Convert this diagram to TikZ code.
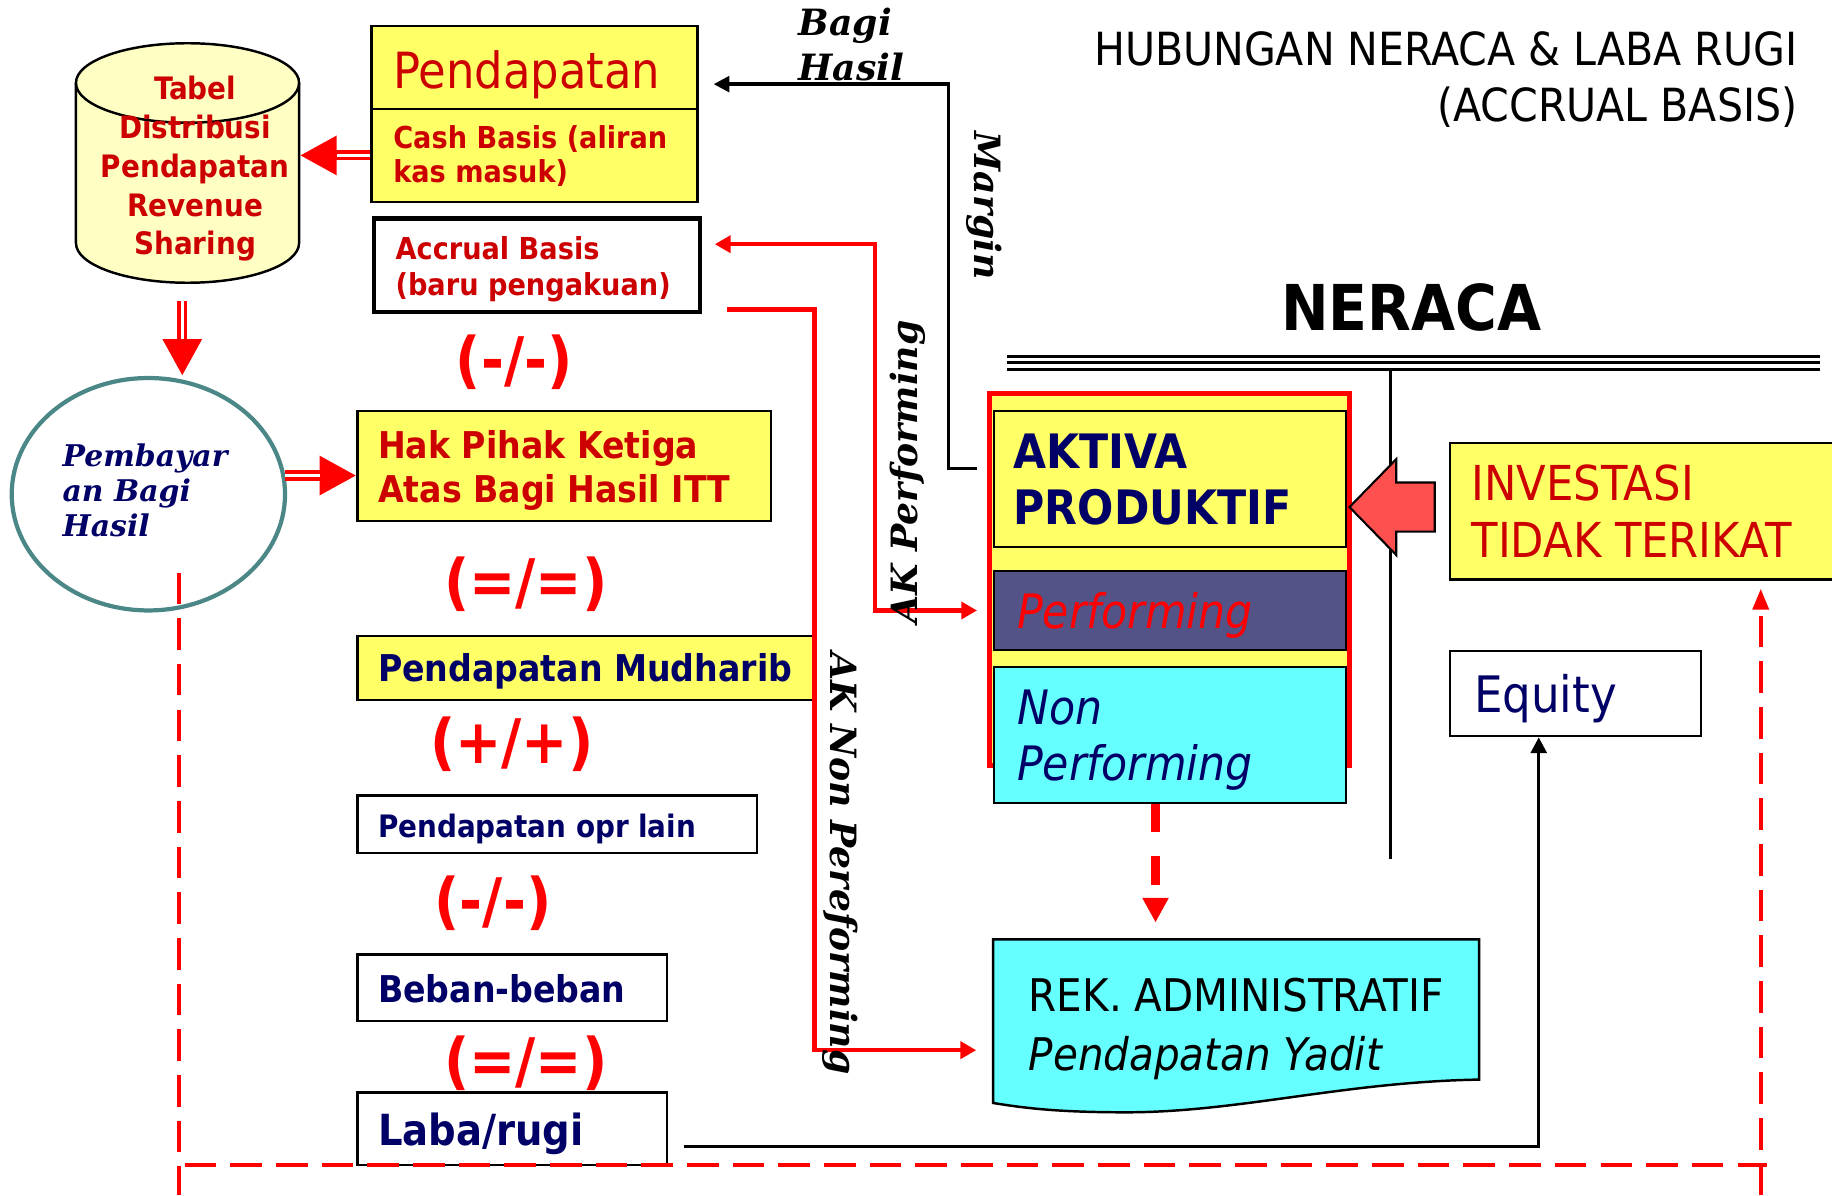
\documentclass[tikz,border=0pt]{standalone}
\usepackage{fontspec}
\setmainfont{DejaVu Sans Condensed}
\newfontfamily\labfont{DejaVu Serif}
\usetikzlibrary{shapes.geometric, arrows.meta, positioning, fit}

\definecolor{boxyellow}{HTML}{FFFF66}
\definecolor{paleyellow}{HTML}{FFFFC4}
\definecolor{txtred}{HTML}{CC0000}
\definecolor{navy}{HTML}{000066}
\definecolor{tealline}{RGB}{75,135,135}
\definecolor{slate}{RGB}{83,83,135}
\definecolor{aqua}{HTML}{66FFFF}
\definecolor{arrowred}{HTML}{FF5050}

\newcommand{\fs}[2]{\fontsize{#1}{#2}\selectfont}

\begin{document}
\begin{tikzpicture}[x=0.011684cm, y=-0.011684cm,
    >={Triangle[length=4.5pt,width=4.8pt]},
    ybox/.style={draw, line width=0.6pt, fill=boxyellow, inner sep=0pt},
    wbox/.style={draw, line width=0.7pt, fill=white, inner sep=0pt},
    txt/.style={inner sep=0pt, anchor=base west, align=left},
    ops/.style={inner sep=0pt, text=red, font=\fs{17.5}{17.5}\bfseries},
    lab/.style={inner sep=0pt, font=\labfont\fs{10.3}{12.8}\bfseries\itshape},
    blkarrow/.style={line width=0.95pt, -{Triangle[length=4.5pt,width=4.5pt]}},
    redline/.style={red, line width=1.3pt},
    reddash/.style={red, line width=1.25pt, dash pattern=on 9pt off 4pt},
    dblarrow/.style={red, line width=2.9pt, -{Triangle[length=10.5pt,width=10.5pt]},
        postaction={draw=white, line width=0.9pt, -, shorten >=10.5pt}}]
    \useasboundingbox (0,0) rectangle (1568,1023);

    % Title
    \node[inner sep=0pt, anchor=base east, align=right, font=\fs{13}{16.2}] (judul)
        at (1539,104.4) {HUBUNGAN NERACA \& LABA RUGI\\(ACCRUAL BASIS)};

    % Tabel distribusi (cylinder)
    \path[draw, line width=0.7pt, fill=paleyellow] (65,71) -- (65,208)
        arc[start angle=180, end angle=0, x radius=95.5, y radius=34] -- (256,71)
        arc[start angle=0, end angle=-180, x radius=95.5, y radius=34] -- cycle;
    \draw[line width=0.7pt] (65,71) arc[start angle=180, end angle=0, x radius=95.5, y radius=34];
    \node[fit={(65,37) (256,242)}, inner sep=0pt] (tabel) {};
    \node[inner sep=0pt, anchor=base, align=center, text=txtred, font=\fs{8.8}{11.05}\bfseries] (tabeltxt)
        at (167,218.2) {Tabel\\Distribusi\\Pendapatan\\Revenue\\Sharing};

    % Pembayaran bagi hasil
    \node[ellipse, draw=tealline, line width=1.2pt, fill=white, minimum width=2.734cm,
        minimum height=2.325cm, inner sep=0pt] (bayar) at (127,423) {};
    \node[txt, text=navy, font=\labfont\fs{8.5}{10}\bfseries\itshape] (bayartxt)
        at (53,459.6) {Pembayar\\an Bagi\\Hasil};

    % Laba rugi column
    \node[ybox, fit={(318,22) (597,93)}] (pendtop) {};
    \node[ybox, fit={(318,93) (597,173)}] (cash) {};
    \node[txt, text=txtred, font=\fs{14.2}{17}] (pendtxt) at (336,75.5) {Pendapatan};
    \node[txt, text=txtred, font=\fs{8.6}{9.94}\bfseries] (cashtxt) at (336,156.6) {Cash Basis (aliran\\kas masuk)};

    \node[wbox, line width=1.3pt, fit={(320,187) (599,267)}] (accrual) {};
    \node[txt, text=txtred, font=\fs{8.6}{10}\bfseries] (accrualtxt) at (338,252.5) {Accrual Basis\\(baru pengakuan)};

    \node[ops] (opa) at (440,310) {(-/-)};

    \node[ybox, fit={(306,352) (660,446)}] (hak) {};
    \node[txt, text=txtred, font=\fs{10.5}{12.8}\bfseries] (haktxt) at (323,430.5) {Hak Pihak Ketiga\\Atas Bagi Hasil ITT};

    \node[ops] (opb) at (450,500) {(=/=)};

    \node[ybox, fit={(306,544) (697,599)}] (mudharib) {};
    \node[txt, text=navy, font=\fs{10.5}{12}\bfseries] (mudharibtxt) at (323,583.7) {Pendapatan Mudharib};

    \node[ops] (opc) at (438,637) {(+/+)};

    \node[wbox, fit={(306,681) (648,730)}] (oprlain) {};
    \node[txt, text=navy, font=\fs{8.8}{10}\bfseries] (oprlaintxt) at (323,716.4) {Pendapatan opr lain};

    \node[ops] (opd) at (422,773) {(-/-)};

    \node[wbox, fit={(306,817) (571,874)}] (beban) {};
    \node[txt, text=navy, font=\fs{10.5}{12}\bfseries] (bebantxt) at (323,857.6) {Beban-beban};

    \node[ops] (ope) at (450,910) {(=/=)};

    \node[wbox, fit={(306,935) (571,997)}] (laba) {};
    \node[txt, text=navy, font=\fs{12.2}{14}\bfseries] (labatxt) at (323,980) {Laba/rugi};

    % Neraca
    \node[inner sep=0pt, anchor=base, font=\fs{18}{20}\bfseries] (neraca) at (1208,282.5) {NERACA};
    \foreach \yy in {305,310.5,316}
        \draw[line width=0.8pt] (862,\yy) -- (1558,\yy);
    \draw[line width=0.95pt] (1190,316) -- (1190,735);

    \node[fit={(847,337) (1155,655)}, draw=red, line width=1.3pt, fill=boxyellow, inner sep=0pt] (aktivaouter) {};
    \node[ybox, fit={(851,352) (1152,468)}] (aktiva) {};
    \node[draw, line width=0.6pt, fill=slate, inner sep=0pt, fit={(851,489) (1152,556)}] (perf) {};
    \node[draw, line width=0.6pt, fill=aqua, inner sep=0pt, fit={(851,571) (1152,687)}] (nonperf) {};
    \node[txt, text=navy, font=\fs{13.5}{16.1}\bfseries] (aktivatxt) at (867,449) {AKTIVA\\PRODUKTIF};
    \node[txt, text=red, font=\fs{13.5}{16}\itshape] (perftxt) at (870,537.5) {Performing};
    \node[txt, text=navy, font=\fs{13.5}{15.7}\itshape] (nonperftxt) at (870,667.6) {Non\\Performing};

    \node[ybox, fit={(1241,379) (1575,496)}] (invest) {};
    \node[txt, text=txtred, font=\fs{13.7}{16.3}] (investtxt) at (1259,477) {INVESTASI\\TIDAK TERIKAT};

    \node[wbox, fit={(1241,557) (1456,630)}] (equity) {};
    \node[txt, text=navy, font=\fs{14.3}{16}] (equitytxt) at (1261,610) {Equity};

    % Rek. administratif (document shape)
    \draw[line width=0.7pt, fill=aqua] (850,804) -- (1266,804) -- (1266,924)
        .. controls (1150,926) and (1060,952) .. (964,952)
        .. controls (910,952) and (880,949) .. (850,944) -- cycle;
    \node[fit={(850,804) (1266,944)}, inner sep=0pt] (rek) {};
    \node[txt, font=\fs{12.8}{16.6}] (rektxt) at (880,916) {REK. ADMINISTRATIF\\\textit{Pendapatan Yadit}};

    % Block arrow investasi -> aktiva
    \draw[fill=arrowred, line width=0.6pt] (1155,434) -- (1195,393) -- (1195,413) -- (1228,413)
        -- (1228,455) -- (1195,455) -- (1195,475) -- cycle;

    % Double arrows
    \draw[dblarrow] (cash.west) -- (cash.west -| tabel.east);
    \coordinate (dn) at (156,258);
    \draw[dblarrow] (dn) -- (dn |- bayar.north);
    \coordinate (bh) at (244,407);
    \draw[dblarrow] (bh) -- (bh -| hak.west);

    % Margin / Bagi hasil
    \coordinate (mgs) at (836,401);
    \coordinate (mgt) at (812,72);
    \draw[blkarrow, shorten >=4.3pt] (mgs) -| (mgt) -- (mgt -| pendtop.east);
    \node[lab, anchor=base west, align=left] (bagihasil) at (683,68.5) {Bagi\\Hasil};
    \node[lab, rotate=-90] (margin) at (842,176) {Margin};

    % AK Performing
    \coordinate (akp) at (749,209);
    \draw[redline, <->, shorten <=3.6pt, shorten >=4.6pt] (accrual.east |- akp) -- (akp) |- (perf.west);
    \node[lab, rotate=90] (akperf) at (777,404) {AK Performing};

    % AK Non Performing
    \coordinate (aknps) at (622,265);
    \coordinate (aknp) at (697,265);
    \draw[redline, ->, shorten >=4.6pt] (aknps) -- (aknp) |- ([yshift=-0.29cm]rek.west);
    \node[lab, rotate=-90] (aknonperf) at (719,739) {AK Non Pereforming};

    % Non performing -> rek. administratif
    \coordinate (npx) at (989,0);
    \draw[red, line width=2.3pt, dash pattern=on 8pt off 7pt, -{Triangle[length=7pt,width=7pt]},
        shorten >=4.6pt] (nonperf.south -| npx) -- (rek.north -| npx);

    % Laba/rugi -> equity
    \coordinate (lbs) at (585,981);
    \coordinate (eqx) at (1317,0);
    \draw[blkarrow] (lbs) -| (equity.south -| eqx);

    % Dashed return loop
    \coordinate (dl) at (153,490);
    \draw[reddash] (dl) -- (153,1023);
    \coordinate (db) at (158,997);
    \draw[reddash] (db) -- (1512,997);
    \coordinate (dr) at (1507,1023);
    \draw[reddash, -{Triangle[length=6pt,width=4.5pt]}, shorten >=2.3pt] (dr) -- (dr |- invest.south);
\end{tikzpicture}
\end{document}
